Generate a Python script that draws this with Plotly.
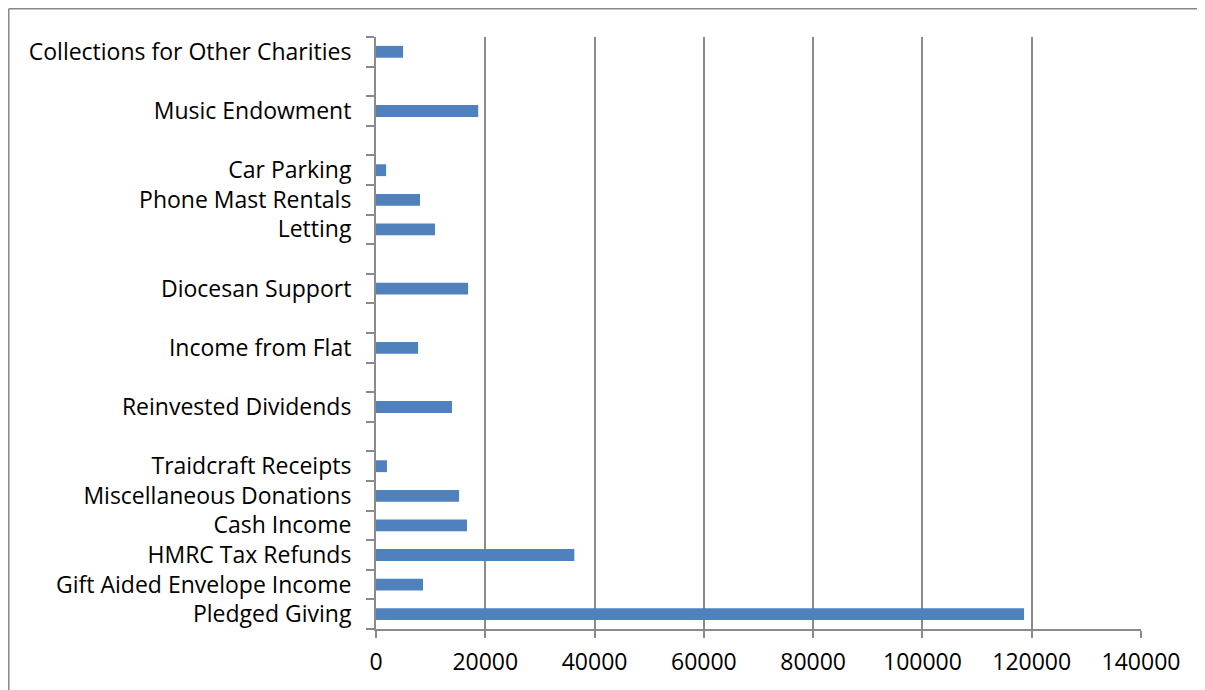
import plotly.graph_objects as go

categories = [
    "Pledged Giving", "Gift Aided Envelope Income", "HMRC Tax Refunds", "Cash Income",
    "Miscellaneous Donations", "Traidcraft Receipts", " ", "Reinvested Dividends", "  ",
    "Income from Flat", "   ", "Diocesan Support", "    ", "Letting", "Phone Mast Rentals",
    "Car Parking", "     ", "Music Endowment", "      ", "Collections for Other Charities",
]
values = [
    118600, 8600, 36300, 16650, 15200, 2000, None, 13900, None,
    7700, None, 16850, None, 10800, 8050, 1850, None, 18700, None, 4950,
]
x_ticks = [0, 20000, 40000, 60000, 80000, 100000, 120000, 140000]

# page has an 8px body margin; work in page pixels and convert
OFF = 8
W, H = 1205 - OFF, 690 - OFF
L, R, T, B = 376 - OFF, 1141 - OFF, 37 - OFF, 629 - OFF

fig = go.Figure(go.Bar(
    y=categories, x=values, orientation="h",
    marker=dict(color="#4f81bd", line=dict(width=0)),
))

grid = "#8a8a8a"
font = dict(family="Open Sans, sans-serif", size=23, color="black")

def px_x(p):
    return (p - L) / (R - L)

def px_y(p):
    return (B - p) / (B - T)

fig.update_layout(
    width=W, height=H,
    margin=dict(l=L, r=W - R, t=T, b=H - B),
    paper_bgcolor="white", plot_bgcolor="white",
    bargap=0.6, showlegend=False, font=font,
    xaxis=dict(range=[0, 140000], tickvals=x_ticks, ticktext=[str(v) for v in x_ticks],
               showgrid=True, gridcolor=grid, gridwidth=2, zeroline=False,
               showline=True, linecolor=grid, linewidth=2,
               ticks="outside", ticklen=7, tickcolor=grid, tickwidth=2, tickfont=font,
               ticklabelstandoff=4),
    yaxis=dict(type="category", categoryorder="array", categoryarray=categories,
               showgrid=False, zeroline=False, showline=True, linecolor=grid, linewidth=2,
               ticks="outside", ticklen=8, tickcolor=grid, tickwidth=2, tickson="boundaries",
               ticklabelstandoff=18, tickfont=font, range=[-0.5, len(categories) - 0.5]),
    shapes=[
        dict(type="line", xref="paper", yref="paper", x0=px_x(0.75), x1=px_x(0.75),
             y0=px_y(0.75), y1=px_y(H + 10), line=dict(color="#888888", width=1.5)),
        dict(type="line", xref="paper", yref="paper", x0=px_x(0.75), x1=px_x(W + 10),
             y0=px_y(0.75), y1=px_y(0.75), line=dict(color="#888888", width=1.5)),
    ],
)

fig.write_html("out.html")
